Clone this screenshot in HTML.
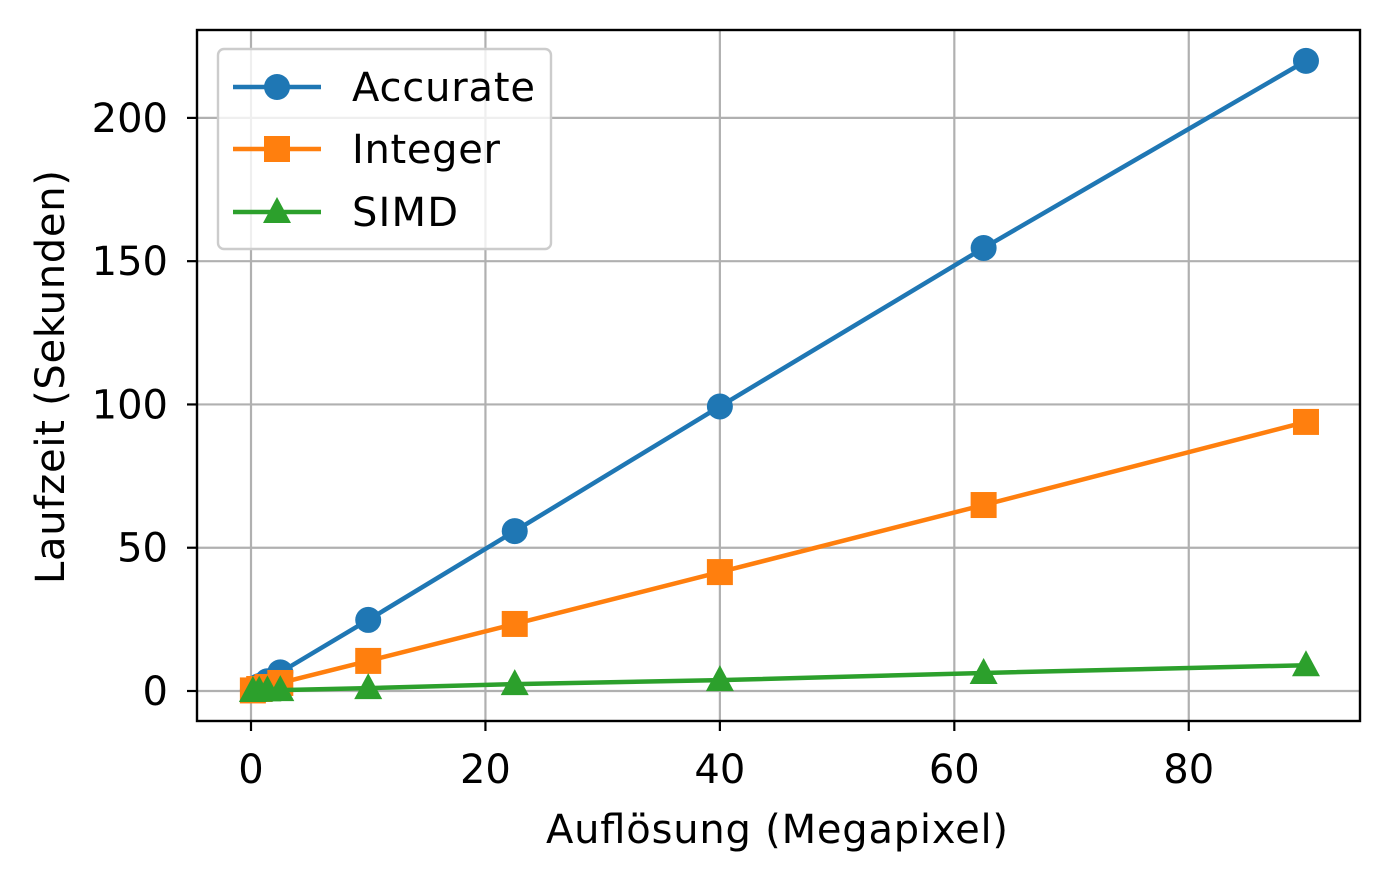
<!DOCTYPE html>
<html><head><meta charset="utf-8"><style>
body{margin:0;background:#fff;}
text{font-family:"DejaVu Sans","Liberation Sans",sans-serif;fill:#000;}
</style></head><body>
<svg id="chart" width="1389" height="882" xmlns="http://www.w3.org/2000/svg">
<g id="grid"></g>
<g id="series"></g>
<rect x="197" y="30" width="1163" height="691" fill="none" stroke="#000" stroke-width="2.4"/>
<g id="ticks"></g>
<text x="777" y="843" font-size="40" text-anchor="middle" textLength="462">Auflösung (Megapixel)</text>
<text transform="translate(64,377) rotate(-90)" font-size="40" text-anchor="middle" textLength="414">Laufzeit (Sekunden)</text>
<g>
<rect x="218" y="49" width="333" height="200" rx="6" fill="#fff" fill-opacity="0.8" stroke="#ccc" stroke-width="2.4"/>
<g><line x1="233" y1="87" x2="321" y2="87" stroke="#1f77b4" stroke-width="4.5"/><circle cx="277" cy="87" r="13" fill="#1f77b4"/><text x="352" y="101" font-size="40" textLength="183">Accurate</text></g>
<g><line x1="233" y1="149" x2="321" y2="149" stroke="#ff7f0e" stroke-width="4.5"/><rect x="264" y="136" width="26" height="26" fill="#ff7f0e"/><text x="352" y="163" font-size="40" textLength="148">Integer</text></g>
<g><line x1="233" y1="212" x2="321" y2="212" stroke="#2ca02c" stroke-width="4.5"/><polygon points="277,197 291,223 263,223" fill="#2ca02c"/><text x="352" y="226" font-size="40" textLength="106">SIMD</text></g>
</g>
</svg>
<script>
const xValues=[0.16,0.7,1.4,2.5,10,22.5,40,62.5,90];
const accurate=[0.4,1.7,3.4,6.5,24.8,55.8,99.3,154.6,219.9];
const integer=[0.2,0.7,1.4,2.8,10.5,23.4,41.5,64.9,93.9];
const simd=[0.02,0.1,0.2,0.3,1.0,2.4,3.8,6.3,9.0];
const xTicks=[0,20,40,60,80];
const yTicks=[0,50,100,150,200];
const NS="http://www.w3.org/2000/svg";
const X=v=>251+v*11.722;
const Y=v=>691-v*2.8655;
function mk(tag,attrs,parent){const e=document.createElementNS(NS,tag);for(const k in attrs)e.setAttribute(k,attrs[k]);parent.appendChild(e);return e;}
const grid=document.getElementById('grid'),ticks=document.getElementById('ticks'),ser=document.getElementById('series');
xTicks.forEach(t=>{
 const g=mk('line',{x1:X(t),x2:X(t),y1:30,y2:721,stroke:'#b0b0b0','stroke-width':2.2},grid);
 
 
 const tk=mk('line',{x1:X(t),x2:X(t),y1:721,y2:731,stroke:'#000','stroke-width':2.2},ticks);
 
 
 const tx=mk('text',{x:X(t),y:783,'font-size':40,'text-anchor':'middle'},ticks);tx.textContent=t;
 
 
});
yTicks.forEach(t=>{
 const g=mk('line',{x1:197,x2:1360,y1:Y(t),y2:Y(t),stroke:'#b0b0b0','stroke-width':2.2},grid);
 
 
 const tk=mk('line',{x1:187,x2:197,y1:Y(t),y2:Y(t),stroke:'#000','stroke-width':2.2},ticks);
 
 
 const tx=mk('text',{x:168,y:Y(t)+14,'font-size':40,'text-anchor':'end'},ticks);tx.textContent=t;
 
 
});
function series(vals,color,shape,name){
 const pl=mk('polyline',{points:xValues.map((x,i)=>X(x)+','+Y(vals[i])).join(' '),fill:'none',stroke:color,'stroke-width':4.5,'stroke-linejoin':'round'},ser);
 
 
 xValues.forEach((x,i)=>{
  const cx=X(x),cy=Y(vals[i]);let m;
  if(shape==='c')m=mk('circle',{cx:cx,cy:cy,r:13,fill:color},ser);
  else if(shape==='s')m=mk('rect',{x:cx-13,y:cy-13,width:26,height:26,fill:color},ser);
  else m=mk('polygon',{points:`${cx},${cy-15} ${cx+14},${cy+11} ${cx-14},${cy+11}`,fill:color},ser);
  
  
 });
}
series(accurate,'#1f77b4','c','accurate');
series(integer,'#ff7f0e','s','integer');
series(simd,'#2ca02c','t','simd');
</script>
</body></html>
